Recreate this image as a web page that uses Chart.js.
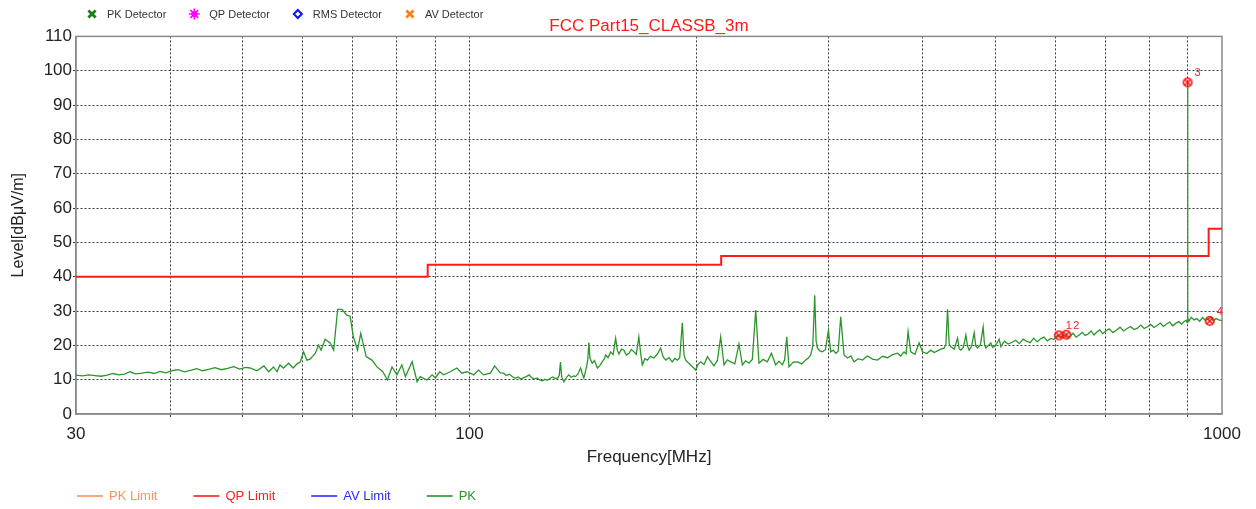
<!DOCTYPE html>
<html>
<head>
<meta charset="utf-8">
<script src="https://cdn.jsdelivr.net/npm/chart.js@4.4.1/dist/chart.umd.min.js"></script>
<style>
  html, body { margin: 0; padding: 0; background: #fff; }
  #wrap { position: relative; width: 1256px; height: 509px; }
</style>
</head>
<body>
<div id="wrap"><canvas id="emcChart"></canvas></div>
<script>
// Axis ticks
const xGrid = [30, 40, 50, 60, 70, 80, 90, 100, 200, 300, 400, 500, 600, 700, 800, 900, 1000];
const xLabels = [30, 100, 1000];
const yTicks = [0, 10, 20, 30, 40, 50, 60, 70, 80, 90, 100, 110];

// QP limit (FCC Part 15 class B, 3 m)
const qpFreq = [30, 88, 88, 216, 216, 960, 960, 1000];
const qpLevel = [40, 40, 43.5, 43.5, 46, 46, 54, 54];

// PK trace
const pkFreq = [
  30, 30.6, 31.2, 31.8, 32.4, 33, 33.6, 34.2, 34.8, 35.4,
  36, 36.7, 37.4, 38.1, 38.8, 39.5, 40.2, 41, 41.8, 42.6,
  43.4, 44.2, 45, 45.9, 46.8, 47.7, 48.6, 49.5, 50.4, 51.1,
  52.2, 53.3, 54.1, 54.9, 55.5, 56.0, 56.6, 57.5, 58.3, 59.0,
  59.6, 60.2, 60.8, 61.4, 62.4, 63.0, 63.5, 64.3, 65.3, 66.0,
  66.8, 67.7, 68.7, 69.4, 70.1, 71.0, 71.7, 72.9, 74.2, 75.3,
  76.7, 77.8, 78.9, 80.1, 81.3, 82.2, 83.9, 85.2, 86.0, 87.8,
  89.2, 90.1, 91.3, 92.4, 94.3, 96.2, 97.7, 99.2, 101.3, 102.8,
  104.4, 106.6, 108.0, 109.9, 111, 112, 113, 114, 115, 116,
  117, 118, 119, 120, 121, 122, 123, 124, 125, 126,
  127, 128, 129, 130, 131, 131.6, 132.1, 132.6, 133.5, 134.5,
  135.5, 136.5, 137.5, 138.3, 139.3, 140.5, 141.2, 141.9, 142.8, 143.6,
  144.1, 144.6, 145.6, 146.6, 147.9, 149, 150.1, 151.0, 151.7, 152.8,
  154.0, 155.2, 156.4, 157.2, 158.0, 159.2, 160.4, 161.6, 162.9, 164.1,
  165.4, 166.6, 167.9, 168.8, 169.7, 171.0, 172.3, 174.0, 175.8, 177.6,
  179.5, 180.9, 182.3, 184.1, 186.0, 187.4, 188.9, 190.3, 191.8, 192.8,
  193.8, 195.2, 196.7, 198.2, 199.8, 201.4, 202.9, 205.0, 207.1, 209.2,
  211.3, 213.5, 215.7, 217.9, 220.1, 222.4, 225.2, 228.1, 230.5, 232.8,
  235.2, 237.6, 240.1, 242.5, 245.6, 248.8, 251.9, 255.2, 257.8, 260.5,
  262.3, 264.0, 265.8, 269.3, 272.8, 276.3, 279.8, 282.0, 284.1, 285.9,
  287.6, 288.8, 290.0, 292.2, 294.5, 297.2, 299.9, 302.0, 304.3, 306.7,
  309.0, 311.4, 314.6, 318.0, 321.2, 324.4, 328.6, 332.8, 338.0, 343.2,
  348.5, 353.9, 359.3, 364.9, 370.5, 374.2, 378.0, 380.4, 382.7, 385.8,
  390.8, 395.8, 400.0, 405.1, 410.3, 414.5, 418.8, 423.0, 427.3, 429.6,
  431.8, 434.0, 436.2, 440.7, 445.2, 447.5, 449.7, 453.2, 456.7, 459.0,
  461.3, 464.8, 468.4, 470.8, 473.3, 477.4, 481.5, 483.5, 485.5, 489.3,
  493.0, 495.5, 498.0, 501.8, 505.7, 508.3, 514, 520, 526, 532,
  538, 544, 550, 556, 562, 568, 574, 580, 586, 592,
  598, 604, 610, 616, 622, 628, 634, 640, 646, 652,
  658, 664, 670, 676, 682, 688, 694, 700, 708, 716,
  724, 732, 740, 748, 756, 764, 772, 780, 788, 796,
  804, 812, 820, 828, 836, 844, 852, 860, 868, 876,
  884, 890, 896, 899, 900, 901, 904, 910, 918, 926,
  934, 942, 950, 958, 966, 974, 982, 990, 1000
];
const pkLevel = [
  11.3, 11.1, 11.4, 11.2, 11.0, 11.3, 11.8, 11.4, 11.6, 12.3,
  11.7, 11.9, 12.2, 11.8, 12.4, 12.0, 12.6, 12.9, 12.3, 12.7,
  13.2, 12.6, 13.0, 13.5, 12.9, 13.3, 13.8, 13.1, 13.6, 13.4,
  12.6, 14.0, 12.3, 13.7, 12.3, 14.3, 13.4, 14.8, 13.4, 14.6,
  15.2, 18.1, 15.7, 16.0, 17.7, 20.1, 18.6, 21.8, 20.7, 18.6,
  30.5, 30.5, 28.8, 28.5, 22.5, 18.6, 23.5, 16.7, 15.7, 13.8,
  12.3, 9.9, 13.7, 11.4, 14.3, 10.9, 15.2, 9.4, 10.9, 9.9,
  11.4, 10.5, 12.3, 11.4, 12.3, 13.4, 11.9, 12.3, 11.4, 12.8,
  11.4, 11.9, 14.0, 12.0, 11.9, 11.2, 11.6, 10.9, 10.4, 10.8,
  10.2, 10.6, 10.9, 11.4, 10.6, 10.2, 10.5, 9.9, 9.7, 10.1,
  9.8, 10.4, 10.8, 10.3, 10.5, 11.2, 15.1, 10.8, 9.4, 10.6,
  11.4, 10.7, 11.1, 10.9, 11.6, 13.4, 11.8, 10.5, 12.9, 15.6,
  20.8, 16.2, 14.8, 15.6, 13.4, 14.1, 15.2, 16.0, 17.2, 16.4,
  18.1, 17.3, 22.1, 18.6, 17.5, 18.9, 18.6, 17.2, 17.7, 18.8,
  18.1, 17.4, 22.5, 17.9, 14.3, 16.1, 15.7, 16.8, 16.3, 17.4,
  19.2, 16.6, 15.7, 16.4, 15.2, 16.2, 15.7, 16.5, 26.6, 17.2,
  15.7, 15.0, 14.3, 13.6, 12.8, 14.6, 15.2, 14.4, 16.7, 15.3,
  14.0, 15.6, 22.5, 14.3, 15.8, 15.2, 14.6, 20.4, 14.3, 15.5,
  14.8, 15.9, 30.3, 14.8, 15.9, 15.2, 17.7, 14.3, 15.4, 14.3,
  15.8, 22.5, 13.7, 15.1, 15.2, 14.6, 15.7, 16.3, 17.2, 19.8,
  34.6, 21.4, 19.2, 18.4, 18.1, 18.8, 24.4, 18.1, 18.6, 17.7,
  18.3, 28.3, 17.2, 16.3, 16.9, 15.2, 16.1, 15.7, 16.9, 16.0,
  15.7, 16.8, 16.4, 17.3, 17.7, 16.9, 18.1, 17.5, 24.0, 18.1,
  17.4, 20.7, 18.1, 17.6, 18.6, 17.9, 18.4, 18.9, 19.2, 20.2,
  30.5, 20.4, 19.6, 18.9, 22.1, 19.0, 18.6, 19.4, 23.0, 19.8,
  18.6, 19.7, 23.7, 19.8, 19.2, 20.1, 25.4, 20.3, 19.2, 20.0,
  20.7, 19.4, 19.6, 20.5, 21.8, 19.6, 21.2, 20.4, 20.9, 21.5,
  20.5, 21.8, 21.2, 20.8, 22.1, 21.0, 21.9, 22.4, 21.3, 22.0,
  21.7, 22.9, 22.3, 23.1, 22.2, 22.6, 23.5, 22.4, 23.0, 23.8,
  22.9, 23.3, 24.2, 23.0, 23.9, 24.5, 23.4, 24.1, 24.8, 23.7,
  24.4, 25.3, 24.2, 24.9, 25.5, 24.6, 25.0, 25.9, 24.9, 25.4,
  26.1, 25.2, 25.8, 26.5, 25.5, 26.2, 26.8, 25.7, 26.4, 26.9,
  26.2, 26.9, 27.3, 26.6, 96.6, 27.9, 27.1, 28.2, 27.4, 27.8,
  27.0, 28.1, 27.3, 27.6, 28.2, 27.1, 27.8, 27.4, 27.2
];

// Final measurement markers
const markerFreq = [607, 621, 900, 963];
const markerLevel = [22.9, 23.1, 96.6, 27.1];
const markerNames = ['1', '2', '3', '4'];

const FONT = "'Liberation Sans', Arial, sans-serif";
Chart.defaults.font.family = FONT;

function toPoints(xs, ys) {
  return xs.map((x, i) => ({ x: x, y: ys[i] }));
}

// red circle with a cross for the markers
const markerIcon = document.createElement('canvas');
markerIcon.width = 12;
markerIcon.height = 12;
(function () {
  const c = markerIcon.getContext('2d');
  c.strokeStyle = '#ff1010';
  c.lineWidth = 1.6;
  c.beginPath();
  c.arc(6, 6, 4.2, 0, Math.PI * 2);
  c.stroke();
  c.beginPath();
  c.moveTo(3, 3); c.lineTo(9, 9);
  c.moveTo(9, 3); c.lineTo(3, 9);
  c.stroke();
})();

function drawSymbol(ctx, style, x, y, color) {
  ctx.save();
  ctx.strokeStyle = color;
  ctx.fillStyle = color;
  ctx.beginPath();
  if (style === 'crossRot') {
    ctx.lineWidth = 2.8;
    ctx.moveTo(x - 3.6, y - 3.6); ctx.lineTo(x + 3.6, y + 3.6);
    ctx.moveTo(x + 3.6, y - 3.6); ctx.lineTo(x - 3.6, y + 3.6);
    ctx.stroke();
  } else if (style === 'star') {
    ctx.lineWidth = 1.6;
    for (let k = 0; k < 8; k++) {
      const a = k * Math.PI / 4;
      ctx.moveTo(x, y);
      ctx.lineTo(x + Math.cos(a) * 5.5, y + Math.sin(a) * 5.5);
    }
    ctx.stroke();
    ctx.beginPath();
    ctx.arc(x, y, 3, 0, Math.PI * 2);
    ctx.fill();
  } else if (style === 'rectRot') {
    ctx.lineWidth = 2;
    ctx.moveTo(x, y - 4); ctx.lineTo(x + 4, y); ctx.lineTo(x, y + 4); ctx.lineTo(x - 4, y);
    ctx.closePath();
    ctx.stroke();
  }
  ctx.restore();
}

// frame, marker numbers and the two legends
const emcDecor = {
  id: 'emcDecor',
  beforeDatasetsDraw(chart) {
    const a = chart.chartArea;
    const ctx = chart.ctx;
    ctx.save();
    ctx.strokeStyle = '#8a8a8a';
    ctx.lineWidth = 1.5;
    ctx.strokeRect(a.left, a.top, a.right - a.left, a.bottom - a.top);
    ctx.restore();
  },
  afterDatasetsDraw(chart) {
    const ctx = chart.ctx;
    chart.data.datasets.forEach((ds, idx) => {
      if (!ds.markerNames) return;
      const meta = chart.getDatasetMeta(idx);
      ctx.save();
      ctx.fillStyle = '#ff2020';
      ctx.font = '11px ' + FONT;
      ctx.textBaseline = 'middle';
      meta.data.forEach((pt, i) => {
        ctx.fillText(ds.markerNames[i], pt.x + 7, pt.y - 9);
      });
      ctx.restore();
    });
  },
  afterDraw(chart) {
    const ctx = chart.ctx;
    const byPos = (a, b) => a.legendPos - b.legendPos;
    ctx.save();
    ctx.textBaseline = 'middle';

    // detector legend (top)
    ctx.font = '11px ' + FONT;
    let x = 92;
    chart.data.datasets.filter(d => d.legendRow === 'top').sort(byPos).forEach(d => {
      drawSymbol(ctx, d.pointStyle, x, 14, d.borderColor);
      ctx.fillStyle = '#333';
      ctx.fillText(d.label, x + 15, 14.5);
      x += 15 + ctx.measureText(d.label).width + 28;
    });

    // trace legend (bottom)
    ctx.font = '13px ' + FONT;
    x = 77;
    chart.data.datasets.filter(d => d.legendRow === 'bottom').sort(byPos).forEach(d => {
      ctx.strokeStyle = d.borderColor;
      ctx.lineWidth = 1.6;
      ctx.beginPath();
      ctx.moveTo(x, 496);
      ctx.lineTo(x + 26, 496);
      ctx.stroke();
      ctx.fillStyle = d.borderColor;
      ctx.fillText(d.label, x + 32, 496.5);
      x += 32 + ctx.measureText(d.label).width + 36;
    });
    ctx.restore();
  }
};

function gridColor(ctx, ends) {
  return ends.includes(ctx.tick.value) ? 'rgba(0,0,0,0)' : '#3a3a3a';
}

new Chart(document.getElementById('emcChart'), {
  type: 'line',
  data: {
    datasets: [
      {
        label: 'Markers',
        data: toPoints(markerFreq, markerLevel),
        markerNames: markerNames,
        showLine: false,
        pointStyle: markerIcon,
        pointRadius: 6,
        order: 0
      },
      {
        label: 'PK',
        legendRow: 'bottom',
        legendPos: 4,
        data: toPoints(pkFreq, pkLevel),
        borderColor: '#2a962a',
        borderWidth: 1.3,
        pointRadius: 0,
        tension: 0,
        order: 1
      },
      {
        label: 'QP Limit',
        legendRow: 'bottom',
        legendPos: 2,
        data: toPoints(qpFreq, qpLevel),
        borderColor: '#ff1a1a',
        borderWidth: 2,
        pointRadius: 0,
        order: 2
      },
      { label: 'PK Limit', legendRow: 'bottom', legendPos: 1, data: [], borderColor: '#ff9060', order: 3 },
      { label: 'AV Limit', legendRow: 'bottom', legendPos: 3, data: [], borderColor: '#2a2aff', order: 4 },
      { label: 'PK Detector', legendRow: 'top', legendPos: 1, data: [], pointStyle: 'crossRot', borderColor: '#1a7d1a', order: 5 },
      { label: 'QP Detector', legendRow: 'top', legendPos: 2, data: [], pointStyle: 'star', borderColor: '#ff00ff', order: 6 },
      { label: 'RMS Detector', legendRow: 'top', legendPos: 3, data: [], pointStyle: 'rectRot', borderColor: '#1010ff', order: 7 },
      { label: 'AV Detector', legendRow: 'top', legendPos: 4, data: [], pointStyle: 'crossRot', borderColor: '#ff8010', order: 8 }
    ]
  },
  options: {
    responsive: true,
    maintainAspectRatio: false,
    animation: false,
    devicePixelRatio: 1,
    layout: { padding: { top: 0, right: 34, bottom: 0, left: 0 } },
    plugins: {
      legend: { display: false },
      tooltip: { enabled: false },
      title: {
        display: true,
        text: 'FCC Part15_CLASSB_3m',
        color: '#ff1a1a',
        fullSize: false,
        font: { size: 17, weight: 'normal' },
        padding: { top: 16, bottom: 0 }
      }
    },
    scales: {
      x: {
        type: 'logarithmic',
        min: 30,
        max: 1000,
        afterBuildTicks: s => { s.ticks = xGrid.map(v => ({ value: v })); },
        afterFit: s => { s.height = 95; },
        ticks: {
          autoSkip: false,
          maxRotation: 0,
          padding: 7,
          color: '#222',
          font: { size: 17 },
          callback: v => xLabels.includes(v) ? String(v) : ''
        },
        grid: { color: c => gridColor(c, [30, 1000]), tickLength: 3 },
        border: { color: '#8a8a8a', width: 1.5, dash: [2, 2] },
        title: {
          display: true,
          text: 'Frequency[MHz]',
          color: '#222',
          font: { size: 17 },
          padding: { top: 0, bottom: 41 }
        }
      },
      y: {
        min: 0,
        max: 110,
        afterBuildTicks: s => { s.ticks = yTicks.map(v => ({ value: v })); },
        afterFit: s => { s.width = 76; },
        ticks: { padding: 1, color: '#222', font: { size: 17 } },
        grid: { color: c => gridColor(c, [0, 110]), tickLength: 3 },
        border: { color: '#8a8a8a', width: 1.5, dash: [2, 2] },
        title: {
          display: true,
          text: 'Level[dBμV/m]',
          color: '#222',
          font: { size: 16 },
          padding: { top: 9, bottom: 0 }
        }
      }
    }
  },
  plugins: [emcDecor]
});
</script>
</body>
</html>
